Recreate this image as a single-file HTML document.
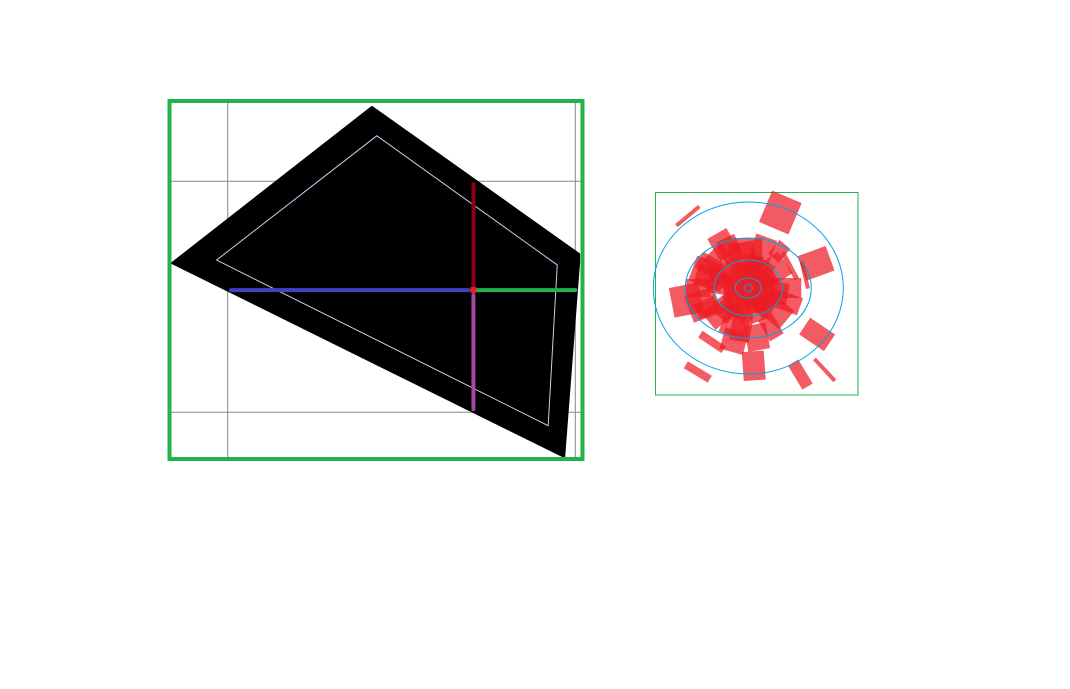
<!DOCTYPE html>
<html><head><meta charset="utf-8"><style>
html,body{margin:0;padding:0;background:#fff;width:1070px;height:689px;overflow:hidden;font-family:"Liberation Sans",sans-serif}
svg{position:absolute;left:0;top:0}
</style></head><body>
<svg id="c" width="1070" height="689" viewBox="0 0 1070 689" xmlns="http://www.w3.org/2000/svg">
<g id="left"></g>
<g id="right"></g>
</svg>
<script>
// ---- Left panel data ----
const gridX = [0, 1];
const gridY = [0, 1];
const outerPolyX = [0.415, 1.011, 1.011, 0.968, -0.160];
const outerPolyY = [1.322, 0.685, 0.651, -0.193, 0.646];
const innerPolyX = [0.429, 0.948, 0.922, -0.032];
const innerPolyY = [1.197, 0.638, -0.058, 0.659];
const crossCenter = [0.707, 0.529];
const crossEnds = [0.01, 1.0, 0.988, 0.014]; // left x, right x, top y, bottom y

// ---- Right panel data ----
const ringRx = [4, 13, 34, 63, 95];
const ringRy = [4, 10, 28, 50, 86];
const barTheta = [320,23,70,77,62,124,176,211,214,149,137,259,
  0,20,40,55,90,110,130,150,170,190,200,230,245,270,285,300,315,335,350,10,100,160,225,280,60,140,
  0,45,90,135,180,225,270,315,30,120,210,300,250,290,330,195];
const barR = [94,82,72,58,47,83,78,98,65,101,112,63,
  35,40,48,30,38,42,35,45,50,40,36,38,46,50,40,45,38,42,30,22,28,25,30,28,20,22,
  12,12,12,12,12,12,12,12,20,20,20,20,48,44,50,55];
const barLen = [4,34,30,4,5,30,29,8,8,28,30,30,
  30,28,18,30,30,26,30,24,26,28,30,28,22,24,28,24,28,26,32,22,24,20,22,24,20,20,
  26,26,26,26,26,26,26,26,24,24,24,24,30,30,26,22];
const barWid = [30,32,26,28,30,20,22,28,28,12,4,30,
  28,22,14,26,20,18,24,16,22,20,26,22,16,18,22,18,24,20,26,20,22,18,20,22,18,18,
  24,24,24,24,24,24,24,24,26,26,26,26,28,26,22,24];

const NS = "http://www.w3.org/2000/svg";
function mk(tag, attrs, parent){const e=document.createElementNS(NS,tag);for(const k in attrs)e.setAttribute(k,attrs[k]);parent.appendChild(e);return e;}
const L = document.getElementById('left');
const R = document.getElementById('right');
const x = v => 227.7 + v*347.6;
const y = v => 412.3 - v*231;

gridX.forEach(v=>{const e=mk('line',{x1:x(v),x2:x(v),y1:101,y2:460,stroke:'#888','stroke-width':1},L);

});
gridY.forEach(v=>{const e=mk('line',{x1:170,x2:583,y1:y(v),y2:y(v),stroke:'#888','stroke-width':1},L);

});

let op = outerPolyX.map((v,i)=>x(v)+','+y(outerPolyY[i])).join(' ');
const po = mk('polygon',{points:op,fill:'#000',stroke:'#000','stroke-width':2,'stroke-linejoin':'round'},L);


let ip = innerPolyX.map((v,i)=>x(v)+','+y(innerPolyY[i])).join(' ');
const pi = mk('polygon',{points:ip,fill:'none',stroke:'#ccccee','stroke-width':1},L);



const cx0=x(crossCenter[0]), cy0=y(crossCenter[1]);
const segs=[
 ['cross-left','#4040c0',x(crossEnds[0]),cy0,cx0-5,cy0],
 ['cross-right','#22b14c',cx0+4,cy0,x(crossEnds[1]),cy0],
 ['cross-up','#880015',cx0,cy0-4,cx0,y(crossEnds[2])],
 ['cross-down','#a349a4',cx0,cy0+5,cx0,y(crossEnds[3])]];
segs.forEach(s=>{const e=mk('line',{x1:s[2],y1:s[3],x2:s[4],y2:s[5],stroke:s[1],'stroke-width':4,'stroke-linecap':'round'},L);

});
const dot=mk('rect',{x:cx0-3,y:cy0-3,width:6,height:6,fill:'#ed1c24'},L);



const fr=mk('rect',{x:169.5,y:101,width:413,height:358,fill:'none',stroke:'#22b14c','stroke-width':4},L);



const pcx=748.3, pcy=288;
const rb=mk('rect',{x:655.5,y:192.5,width:202.5,height:202.5,fill:'#fff',stroke:'#22b14c','stroke-width':1},R);


barTheta.forEach((t,i)=>{
  const a=t*Math.PI/180, r=barR[i];
  const bx=pcx+r*Math.sin(a), by=pcy-r*Math.cos(a);
  const g=mk('rect',{x:bx-barWid[i]/2,y:by-barLen[i]/2,width:barWid[i],height:barLen[i],fill:'#ed1c24','fill-opacity':0.72,transform:`rotate(${t} ${bx} ${by})`},R);
  
  
});
ringRx.forEach((r,i)=>{const e=mk('ellipse',{cx:pcx,cy:pcy,rx:r,ry:ringRy[i],fill:'none',stroke:'#00a2e8','stroke-width':1},R);

});
</script>
</body></html>
